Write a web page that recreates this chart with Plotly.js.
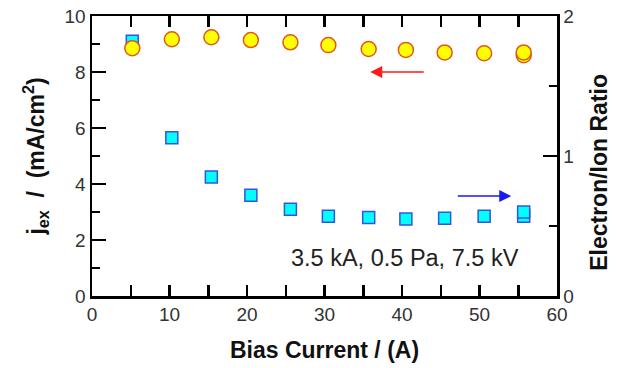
<!DOCTYPE html>
<html>
<head>
<meta charset="utf-8">
<script src="https://cdn.plot.ly/plotly-3.0.1.min.js"></script>
<style>
  html, body { margin: 0; padding: 0; background: #fff; }
  #chart { width: 617px; height: 368px; }
</style>
</head>
<body>
<div id="chart"></div>
<script>
// Bias current sweep (A)
const biasCurrent = [5.2, 10.3, 15.4, 20.5, 25.6, 30.5, 35.7, 40.5, 45.5, 50.6, 55.7, 55.7];
// Extracted current density j_ex (mA/cm^2), left axis
const jex = [8.85, 9.17, 9.24, 9.14, 9.06, 8.96, 8.82, 8.79, 8.70, 8.67, 8.60, 8.70];
// Electron/ion ratio, right axis
const ratio = [1.82, 1.13, 0.85, 0.72, 0.62, 0.57, 0.56, 0.55, 0.555, 0.57, 0.57, 0.60];

// bottom/top axis: a tick every 5 A, labelled every 10 A
const xTickVals = [0, 5, 10, 15, 20, 25, 30, 35, 40, 45, 50, 55, 60];
const xTickText = ['0', '', '10', '', '20', '', '30', '', '40', '', '50', '', '60'];

// axis ranges and tick spacing
const xRange = [0, 60];
const jRange = [0, 10], jStep = 2;
const rRange = [0, 2], rStep = 1;

const FONT = 'Liberation Sans, Arial, sans-serif';
const LINE = 2.5;
const TICKFONT = { family: FONT, size: 19, color: '#333' };
const TITLEFONT = { family: FONT, size: 23, color: '#111' };

const frameTicks = (step) => ({
  tickmode: 'linear', tick0: 0, dtick: step,
  ticks: 'inside', ticklen: 14, tickwidth: LINE, tickcolor: '#000',
  minor: { dtick: step / 2, tick0: 0, ticks: 'inside', ticklen: 8, tickwidth: LINE, tickcolor: '#000', showgrid: false }
});

const traces = [
  {
    // squares: ratio vs bias current (right y axis)
    x: biasCurrent, y: ratio, xaxis: 'x', yaxis: 'y', type: 'scatter', mode: 'markers',
    marker: { symbol: 'square', size: 12, color: '#00ffff', line: { color: '#3355dd', width: 1.5 } },
    hoverinfo: 'skip'
  },
  {
    // circles: j_ex vs bias current (left y axis)
    x: biasCurrent, y: jex, xaxis: 'x', yaxis: 'y2', type: 'scatter', mode: 'markers',
    marker: { symbol: 'circle', size: 15, color: '#ffff00', line: { color: '#e0581a', width: 1.5 } },
    hoverinfo: 'skip'
  }
];

const layout = {
  width: 617, height: 368,
  margin: { l: 92, r: 60, t: 16, b: 72 },
  paper_bgcolor: '#fff', plot_bgcolor: 'rgba(0,0,0,0)',
  showlegend: false,
  font: { family: FONT, size: 19, color: '#333' },
  // bottom axis, mirrored along the top edge of the frame
  xaxis: {
    range: xRange, side: 'bottom',
    tickmode: 'array', tickvals: xTickVals, ticktext: xTickText,
    ticks: 'inside', ticklen: 11, tickwidth: LINE, tickcolor: '#000',
    showgrid: false, zeroline: false,
    showline: true, linecolor: '#000', linewidth: LINE, mirror: 'ticks',
    tickfont: TICKFONT,
    title: { text: '<b>Bias Current / (A)</b>', font: TITLEFONT, standoff: 18 }
  },
  // ratio axis on the right, drawn underneath
  yaxis: Object.assign({
    range: rRange, side: 'right',
    showgrid: false, zeroline: false,
    showline: true, linecolor: '#000', linewidth: LINE,
    tickfont: TICKFONT
  }, frameTicks(rStep)),
  // j_ex axis on the left, circles drawn on top
  yaxis2: Object.assign({
    range: jRange, side: 'left', overlaying: 'y',
    showgrid: false, zeroline: false,
    showline: true, linecolor: '#000', linewidth: LINE,
    tickfont: TICKFONT,
    title: { text: '<b>j<sub>ex</sub>  /  (mA/cm<sup>2</sup>)</b>', font: TITLEFONT, standoff: 14 }
  }, frameTicks(jStep)),
  annotations: [
    {
      // right axis title
      x: 1.0, y: 0.44, xref: 'paper', yref: 'paper', xshift: 42,
      text: '<b>Electron/Ion Ratio</b>', textangle: -90, showarrow: false,
      font: TITLEFONT, xanchor: 'center', yanchor: 'middle'
    },
    {
      x: 35.9, y: 8.0, xref: 'x', yref: 'y2', text: '', showarrow: true,
      ax: 55, ay: 0, arrowcolor: '#ff1a1a', arrowwidth: 1.5, arrowhead: 2, arrowsize: 1.6, standoff: 0
    },
    {
      x: 54.1, y: 0.714, xref: 'x', yref: 'y', text: '', showarrow: true,
      ax: -55, ay: 0, arrowcolor: '#1a1aee', arrowwidth: 1.5, arrowhead: 2, arrowsize: 1.6, standoff: 0
    },
    {
      x: 40.4, y: 1.36, xref: 'x', yref: 'y2', text: '3.5 kA, 0.5 Pa, 7.5 kV', showarrow: false,
      font: { family: FONT, size: 23.5, color: '#222' }, xanchor: 'center', yanchor: 'middle'
    }
  ]
};

Plotly.newPlot('chart', traces, layout, { displayModeBar: false, staticPlot: true });
</script>
</body>
</html>
